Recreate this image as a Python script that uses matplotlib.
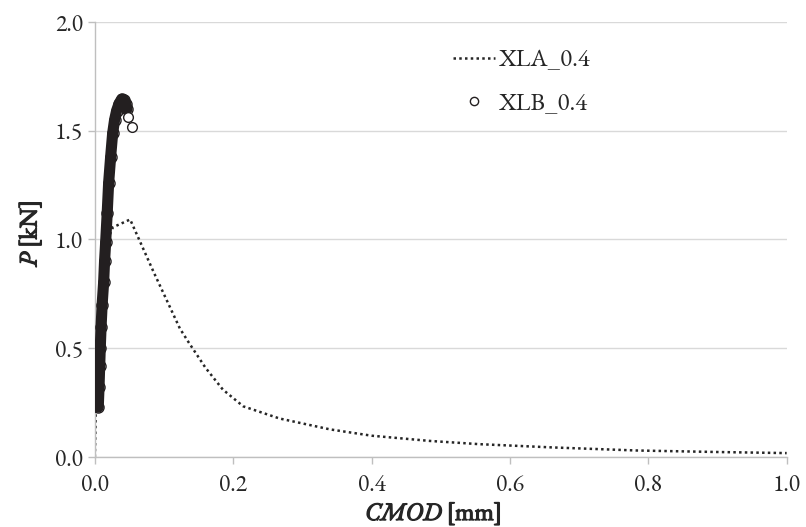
import numpy as np
import matplotlib.pyplot as plt
import matplotlib.patheffects as pe

plt.rcParams['font.family'] = ['EB Garamond', 'Cormorant Garamond',
                               'Liberation Serif', 'DejaVu Serif']

# XLA_0.4 : dotted curve (CMOD [mm], P [kN])
xla_cmod = [0.000, 0.002, 0.006, 0.012, 0.026, 0.051, 0.085, 0.123, 0.136,
            0.160, 0.185, 0.2145, 0.267, 0.34, 0.40, 0.484, 0.556, 0.662,
            0.783, 0.90, 1.00]
xla_p = [0.000, 0.300, 0.700, 0.950, 1.056, 1.092, 0.850, 0.590, 0.525,
         0.410, 0.310, 0.233, 0.177, 0.127, 0.098, 0.074, 0.059, 0.044,
         0.030, 0.023, 0.018]

# XLB_0.4 : dense open-circle series
xlb_cmod = [0.0049, 0.0060, 0.0070, 0.0078, 0.0090, 0.0105, 0.0127, 0.0140,
            0.0156, 0.0178, 0.0199, 0.0228, 0.0257, 0.0285, 0.0315, 0.0350,
            0.0387, 0.0420, 0.0445, 0.0465]
xlb_p = [0.229, 0.320, 0.420, 0.501, 0.600, 0.700, 0.805, 0.900,
         0.987, 1.120, 1.260, 1.380, 1.488, 1.550, 1.593, 1.625,
         1.645, 1.640, 1.625, 1.600]
xlb_out_cmod = [0.0483, 0.0532]
xlb_out_p = [1.564, 1.518]

fig = plt.figure(figsize=(8.06, 5.27), dpi=100)
ax = fig.add_axes([0.1177, 0.1328, 0.8583, 0.8255])

grey = '#bfbfbf'
dark = '#262626'
ax.set_xlim(0, 1.0)
ax.set_ylim(0, 2.0)
ax.set_xticks(np.arange(0, 1.01, 0.2))
ax.set_yticks(np.arange(0, 2.01, 0.5))
ax.set_xticklabels(['%.1f' % v for v in np.arange(0, 1.01, 0.2)])
ax.set_yticklabels(['%.1f' % v for v in np.arange(0, 2.01, 0.5)])
ax.yaxis.grid(True, color='#d9d9d9', lw=1.0)
ax.set_axisbelow(True)
for s in ['top', 'right']:
    ax.spines[s].set_visible(False)
for s in ['left', 'bottom']:
    ax.spines[s].set_color(grey)
    ax.spines[s].set_linewidth(1.0)
ax.tick_params(axis='both', colors=grey, labelcolor=dark,
               labelsize=17, length=5, width=1.0, direction='out')
ax.tick_params(axis='x', pad=7)

ax.plot(xla_cmod, xla_p, ls=(0, (1, 1.3)), lw=1.8, color=dark,
        label='XLA_0.4', zorder=2)
# dense band of overlapping circles
ax.plot(xlb_cmod, xlb_p, ls='-', lw=8, color='#231f20',
        solid_capstyle='round', solid_joinstyle='round', zorder=3)
ax.plot(xlb_cmod, xlb_p, ls='none', marker='o', ms=8, mfc='none',
        mec='#231f20', mew=1.0, zorder=4)
ax.plot(xlb_out_cmod, xlb_out_p, ls='none', marker='o', ms=7, mfc='white',
        mec='#231f20', mew=1.0, zorder=4, label='XLB_0.4')

leg = ax.legend(loc='upper left', bbox_to_anchor=(0.485, 0.99), frameon=False,
                fontsize=18, labelspacing=0.75, handlelength=1.7,
                handletextpad=0.1, markerscale=0.85)
for t in leg.get_texts():
    t.set_color(dark)

# axis titles: bold italic symbol followed by bold unit
bold = [pe.withStroke(linewidth=0.9, foreground=dark)]
xt = fig.text(0.548, 0.0, 'CMOD', fontsize=18, fontweight='bold',
              style='italic', ha='right', va='bottom', color=dark,
              path_effects=bold)
ax.annotate('[mm]', xy=(1, 0), xycoords=xt, xytext=(5, 0),
            textcoords='offset pixels', fontsize=18, fontweight='bold',
            ha='left', va='bottom', color=dark, annotation_clip=False,
            path_effects=bold)
yt = fig.text(0.024, 0.52, 'P', fontsize=18, fontweight='bold',
              style='italic', rotation=90, ha='left', va='top', color=dark,
              path_effects=bold)
ax.annotate('[kN]', xy=(0.5, 1), xycoords=yt, xytext=(0, 5),
            textcoords='offset pixels', fontsize=18, fontweight='bold',
            rotation=90, ha='center', va='bottom', color=dark,
            annotation_clip=False, path_effects=bold)

fig.savefig('out.png', dpi=100)
